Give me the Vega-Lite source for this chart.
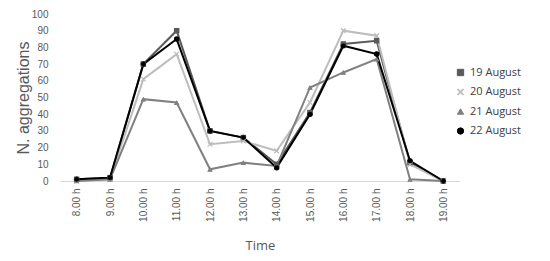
{
  "$schema": "https://vega.github.io/schema/vega-lite/v6.json",
  "width": 400,
  "height": 167,
  "autosize": "none",
  "padding": {"left": 60, "top": 14, "right": 90, "bottom": 80},
  "background": "white",
  "config": {"view": {"stroke": null}, "font": "Liberation Sans"},
  "data": {"values": [
    {"time": "8.00 h", "s": "19 August", "v": 1},
    {"time": "9.00 h", "s": "19 August", "v": 2},
    {"time": "10.00 h", "s": "19 August", "v": 70},
    {"time": "11.00 h", "s": "19 August", "v": 90},
    {"time": "12.00 h", "s": "19 August", "v": 30},
    {"time": "13.00 h", "s": "19 August", "v": 26},
    {"time": "14.00 h", "s": "19 August", "v": 10},
    {"time": "15.00 h", "s": "19 August", "v": 41},
    {"time": "16.00 h", "s": "19 August", "v": 82},
    {"time": "17.00 h", "s": "19 August", "v": 84},
    {"time": "18.00 h", "s": "19 August", "v": 11},
    {"time": "19.00 h", "s": "19 August", "v": 0},
    {"time": "8.00 h", "s": "20 August", "v": 0},
    {"time": "9.00 h", "s": "20 August", "v": 1},
    {"time": "10.00 h", "s": "20 August", "v": 61},
    {"time": "11.00 h", "s": "20 August", "v": 76},
    {"time": "12.00 h", "s": "20 August", "v": 22},
    {"time": "13.00 h", "s": "20 August", "v": 24},
    {"time": "14.00 h", "s": "20 August", "v": 18},
    {"time": "15.00 h", "s": "20 August", "v": 47},
    {"time": "16.00 h", "s": "20 August", "v": 90},
    {"time": "17.00 h", "s": "20 August", "v": 87},
    {"time": "18.00 h", "s": "20 August", "v": 10},
    {"time": "19.00 h", "s": "20 August", "v": 0},
    {"time": "8.00 h", "s": "21 August", "v": 0},
    {"time": "9.00 h", "s": "21 August", "v": 1},
    {"time": "10.00 h", "s": "21 August", "v": 49},
    {"time": "11.00 h", "s": "21 August", "v": 47},
    {"time": "12.00 h", "s": "21 August", "v": 7},
    {"time": "13.00 h", "s": "21 August", "v": 11},
    {"time": "14.00 h", "s": "21 August", "v": 9},
    {"time": "15.00 h", "s": "21 August", "v": 56},
    {"time": "16.00 h", "s": "21 August", "v": 65},
    {"time": "17.00 h", "s": "21 August", "v": 73},
    {"time": "18.00 h", "s": "21 August", "v": 1},
    {"time": "19.00 h", "s": "21 August", "v": 0},
    {"time": "8.00 h", "s": "22 August", "v": 1},
    {"time": "9.00 h", "s": "22 August", "v": 2},
    {"time": "10.00 h", "s": "22 August", "v": 70},
    {"time": "11.00 h", "s": "22 August", "v": 85},
    {"time": "12.00 h", "s": "22 August", "v": 30},
    {"time": "13.00 h", "s": "22 August", "v": 26},
    {"time": "14.00 h", "s": "22 August", "v": 8},
    {"time": "15.00 h", "s": "22 August", "v": 40},
    {"time": "16.00 h", "s": "22 August", "v": 81},
    {"time": "17.00 h", "s": "22 August", "v": 76},
    {"time": "18.00 h", "s": "22 August", "v": 12},
    {"time": "19.00 h", "s": "22 August", "v": 0}
  ]},
  "encoding": {
    "x": {
      "field": "time", "type": "ordinal", "sort": null,
      "scale": {"type": "point", "padding": 0.5},
      "axis": {
        "title": "Time", "titleFontSize": 13, "titleFont": "Open Sans", "titleFontWeight": "normal",
        "titleColor": "#595959", "titlePadding": 18,
        "labelAngle": 270, "labelFontSize": 10, "labelColor": "#595959", "labelPadding": 7,
        "ticks": false, "domainColor": "#d9d9d9", "domainWidth": 1, "grid": false
      }
    },
    "y": {
      "field": "v", "type": "quantitative",
      "scale": {"domain": [0, 100]},
      "axis": {
        "title": "N. aggregations", "titleFontSize": 16, "titleFontWeight": "normal",
        "titleColor": "#595959", "titlePadding": 0,
        "values": [0, 10, 20, 30, 40, 50, 60, 70, 80, 90, 100],
        "labelFontSize": 10, "labelColor": "#595959", "labelPadding": 12,
        "ticks": false, "domain": false, "grid": false
      }
    },
    "color": {
      "field": "s", "type": "nominal",
      "scale": {"domain": ["19 August", "20 August", "21 August", "22 August"],
                "range": ["#5a5a5a", "#bdbdbd", "#808080", "#000000"]},
      "legend": {
        "title": null, "orient": "none", "legendX": 395, "legendY": 53,
        "labelFont": "Open Sans", "labelFontSize": 11, "labelColor": "#404040",
        "rowPadding": 7.5, "symbolSize": 40, "symbolStrokeWidth": 1
      }
    },
    "shape": {
      "field": "s", "type": "nominal",
      "scale": {"domain": ["19 August", "20 August", "21 August", "22 August"],
                "range": ["square", "M-0.75,-1L0,-0.25L0.75,-1L1,-0.75L0.25,0L1,0.75L0.75,1L0,0.25L-0.75,1L-1,0.75L-0.25,0L-1,-0.75Z", "triangle-up", "circle"]},
      "legend": null
    }
  },
  "layer": [
    {"mark": {"type": "line", "strokeWidth": 2}, "encoding": {}},
    {"mark": {"type": "point", "filled": true, "size": 22, "opacity": 1}, "encoding": {}}
  ]
}
